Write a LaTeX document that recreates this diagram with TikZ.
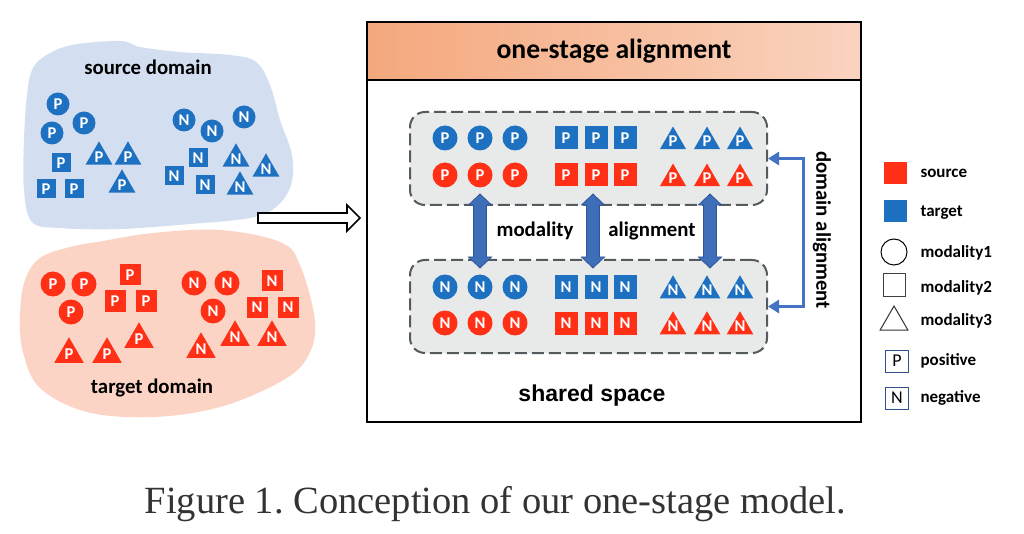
\documentclass[tikz,border=0pt]{standalone}
\usepackage{fontspec}
\setmainfont{Carlito}
\newfontfamily\arialf{Liberation Sans}
\newfontfamily\timesf{Liberation Serif}
\usetikzlibrary{shapes.geometric,arrows.meta}
\definecolor{myblue}{RGB}{30,112,192}
\definecolor{myred}{RGB}{255,48,22}
\definecolor{srcfill}{RGB}{211,223,240}
\definecolor{tgtfill}{RGB}{252,212,198}
\definecolor{boxgray}{RGB}{232,234,234}
\definecolor{dashgray}{RGB}{84,90,94}
\definecolor{arrfill}{RGB}{62,110,184}
\definecolor{arredge}{RGB}{47,85,151}
\definecolor{domarr}{RGB}{68,114,196}
\definecolor{titleL}{RGB}{244,168,125}
\definecolor{titleR}{RGB}{250,211,191}
\definecolor{lgblue}{RGB}{47,82,143}
\newcommand\pnf{\bfseries\fontsize{16.5}{16.5}\selectfont}
\newcommand\lblf{\bfseries\fontsize{20.8}{24}\selectfont}
\newcommand\lgf{\bfseries\fontsize{17}{20}\selectfont}
\frenchspacing
\begin{document}
\begin{tikzpicture}[x=1pt,y=-1pt,
  mk/.style={inner sep=0pt, text=white, font=\pnf},
  cir/.style={mk, circle, minimum size=#1},
  sqr/.style={mk, rectangle, minimum size=#1},
  tri/.style={mk, regular polygon, regular polygon sides=3, minimum size=#1, yshift=-#1/8},
  ibox/.style={draw=dashgray, line width=2pt, dash pattern=on 12pt off 5pt, fill=boxgray, rounded corners=15pt, minimum width=357pt, minimum height=93pt, inner sep=0pt},
  bigarr/.style={fill=arrfill, draw=arredge, line width=0.8pt},
  lbl/.style={font=\lblf, anchor=base},
  lgt/.style={font=\lgf, anchor=base west},
]
\useasboundingbox (0,0) rectangle (1024,534);
\fill[white] (0,0) rectangle (1024,534);

% ---------- source domain blob ----------
\fill[srcfill] plot[smooth cycle, tension=0.6] coordinates {
  (45,56) (72,45) (120,41) (140,47) (180,52) (230,55) (256,62) (270,85)
  (280,120) (292,155) (291,185) (276,207) (250,218) (190,224) (120,229)
  (60,228) (32,222) (24,190) (24,140) (27,95) (32,70)};
\node[lbl] (srclab) at (148,75) {source domain};
\foreach \xx/\yy [count=\i] in {58/104,84/123,52/133}
  \node[cir=23, fill=myblue] (scp\i) at (\xx,\yy) {P};
\foreach \xx/\yy [count=\i] in {61/163,46/189,74/189}
  \node[sqr=19, fill=myblue] (ssp\i) at (\xx,\yy) {P};
\foreach \xx/\yy [count=\i] in {99/153,128/153,122/181}
  \node[tri=31, fill=myblue] (stp\i) at (\xx,\yy) {P};
\foreach \xx/\yy [count=\i] in {184/120,212/131,244/117}
  \node[cir=23, fill=myblue] (scn\i) at (\xx,\yy) {N};
\foreach \xx/\yy [count=\i] in {198/158,174/176,205/185}
  \node[sqr=19, fill=myblue] (ssn\i) at (\xx,\yy) {N};
\foreach \xx/\yy [count=\i] in {236/155,266/165,240/183}
  \node[tri=31, fill=myblue] (stn\i) at (\xx,\yy) {N};

% ---------- target domain blob ----------
\fill[tgtfill] plot[smooth cycle, tension=0.6] coordinates {
  (40,258) (70,247) (103,241) (153,233) (220,230) (280,242) (300,265)
  (315,322) (307,358) (280,382) (220,407) (153,417) (87,412) (40,388)
  (23,352) (20,315) (25,280)};
\node[lbl] (tgtlab) at (152,393) {target domain};
\foreach \xx/\yy [count=\i] in {53/284,84/284,71/312}
  \node[cir=25, fill=myred] (tcp\i) at (\xx,\yy) {P};
\foreach \xx/\yy [count=\i] in {130/275,115/301,146/301}
  \node[sqr=21, fill=myred] (tsp\i) at (\xx,\yy) {P};
\foreach \xx/\yy [count=\i] in {69/350,107/350,139/335}
  \node[tri=34, fill=myred] (ttp\i) at (\xx,\yy) {P};
\foreach \xx/\yy [count=\i] in {194/283,227/283,213/311}
  \node[cir=25, fill=myred] (tcn\i) at (\xx,\yy) {N};
\foreach \xx/\yy [count=\i] in {272/281,257/307,288/307}
  \node[sqr=21, fill=myred] (tsn\i) at (\xx,\yy) {N};
\foreach \xx/\yy [count=\i] in {201/345,235/333,272/333}
  \node[tri=34, fill=myred] (ttn\i) at (\xx,\yy) {N};

% ---------- hollow arrow ----------
\draw[line width=1.6pt, fill=white, line join=miter]
  (258,213) -- (347,213) -- (347,205) -- (360,218) -- (347,231) -- (347,223) -- (258,223) -- cycle;

% ---------- main panel ----------
\shade[left color=titleL, right color=titleR] (367,22) rectangle (861,80);
\draw[line width=1.6pt] (367,22) rectangle (861,422);
\draw[line width=1.2pt] (367,80) -- (861,80);
\node[font=\bfseries\fontsize{27.7}{30}\selectfont, anchor=base] (title) at (614,59) {one-stage alignment};

\node[ibox] (topbox) at (588.5,158.5) {};
\node[ibox] (botbox) at (588.5,306.5) {};

\foreach \xx in {480,593,710}
  \draw[bigarr] (\xx,194) -- (\xx+11.5,205) -- (\xx+6.5,205) -- (\xx+6.5,257)
    -- (\xx+11.5,257) -- (\xx,268) -- (\xx-11.5,257) -- (\xx-6.5,257)
    -- (\xx-6.5,205) -- (\xx-11.5,205) -- cycle;

\node[lbl] (modlab) at (535,237) {modality};
\node[lbl] (alilab) at (652,237) {alignment};

\foreach \rr/\yy/\cc/\lt in {1/138/myblue/P, 2/175/myred/P, 3/287/myblue/N, 4/323/myred/N} {
  \foreach \xx [count=\i] in {445,480,515}
    \node[cir=25, fill=\cc] (pc\rr\i) at (\xx,\yy) {\lt};
  \foreach \xx [count=\i] in {566,596,625}
    \node[sqr=23, fill=\cc] (ps\rr\i) at (\xx,\yy) {\lt};
  \foreach \xx [count=\i] in {673,707,740}
    \node[tri=29, fill=\cc] (pt\rr\i) at (\xx,\yy) {\lt};
}

\draw[domarr, line width=3pt, {Triangle[width=13pt,length=11pt]}-{Triangle[width=13pt,length=11pt]}]
  (topbox.east) -- ++(35,0) |- (botbox.east);
\node[font=\lblf, rotate=-90] (domlab) at (822,230) {domain alignment};

\node[font=\arialf\bfseries\fontsize{23}{26}\selectfont, anchor=base] (shared) at (592,401) {shared space};

% ---------- legend ----------
\node[fill=myred, minimum width=23pt, minimum height=22pt, inner sep=0pt] (lgs) at (895,173) {};
\node[lgt] (lgst) at (917,178) {source};
\node[fill=myblue, minimum width=23pt, minimum height=22pt, inner sep=0pt] (lgtg) at (895,211) {};
\node[lgt] (lgtt) at (917,217) {target};
\node[circle, draw, line width=1pt, minimum size=26pt, inner sep=0pt] (lgc) at (894,252) {};
\node[lgt] (lgct) at (917,258) {modality1};
\node[draw=black!75, line width=1pt, minimum size=22pt, inner sep=0pt] (lgq) at (894,285) {};
\node[lgt] (lgqt) at (917,292) {modality2};
\node[regular polygon, regular polygon sides=3, draw=black!80, line width=1pt, minimum size=32pt, inner sep=0pt, yshift=-4pt] (lgtr) at (894,318) {};
\node[lgt] (lgtrt) at (917,325) {modality3};
\node[draw=lgblue, line width=1pt, minimum width=23pt, minimum height=22pt, inner sep=0pt, font=\fontsize{18}{18}\selectfont] (lgp) at (897,361) {P};
\node[lgt] (lgpt) at (917,365) {positive};
\node[draw=lgblue, line width=1pt, minimum width=23pt, minimum height=22pt, inner sep=0pt, font=\fontsize{18}{18}\selectfont] (lgn) at (897,398) {N};
\node[lgt] (lgnt) at (917,402) {negative};

% ---------- caption ----------
\node[font=\timesf\fontsize{38.5}{40}\selectfont, text=black!80, anchor=base] (cap) at (495.5,513) {Figure 1. Conception of our one-stage model.};
\end{tikzpicture}
\end{document}
